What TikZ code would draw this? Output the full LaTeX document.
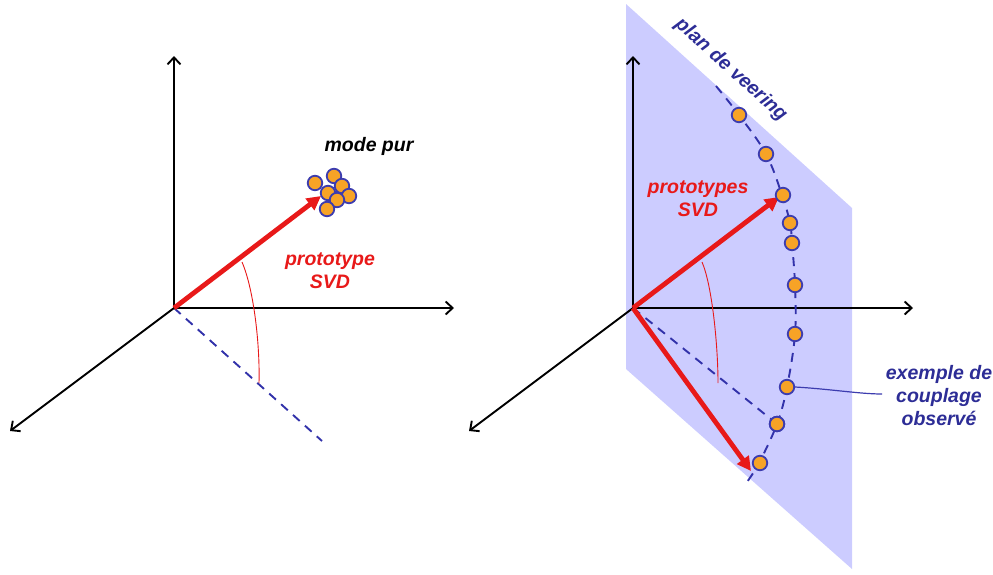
\documentclass[tikz,border=0pt]{standalone}
\usepackage{fontspec}
\setmainfont{Liberation Sans}
\usetikzlibrary{arrows.meta}
\definecolor{planecol}{RGB}{204,204,255}
\definecolor{dotfill}{RGB}{247,163,38}
\definecolor{dotline}{RGB}{60,60,175}
\definecolor{dashblue}{RGB}{50,50,170}
\definecolor{redc}{RGB}{232,25,25}
\definecolor{textblue}{RGB}{45,45,150}
\begin{document}
\begin{tikzpicture}[x=1pt,y=-1pt,
  axis/.style={line width=1.9pt,-{Straight Barb[length=7pt,width=13pt]}},
  redarrow/.style={redc,line width=4.8pt,-{Triangle[length=14pt,width=14pt]}},
  dashline/.style={dashblue,line width=1.9pt,dash pattern=on 9pt off 7pt},
  anglearc/.style={redc,line width=0.9pt},
  pt/.style={circle,fill=dotfill,draw=dotline,line width=1.8pt,minimum size=14.5pt,inner sep=0pt},
  lbl/.style={font=\bfseries\itshape\fontsize{19.5}{23}\selectfont,align=center,inner sep=1pt}]
\useasboundingbox (0,0) rectangle (993,574);

% ---------- left diagram ----------
\coordinate (O1) at (174,308);
\coordinate (Y1) at (174,56);
\coordinate (X1) at (454,308);
\coordinate (Z1) at (10,431);
\coordinate (T1) at (321,196);
\coordinate (D1) at (322,441);
\draw[dashline] (O1) -- (D1);
\draw[axis] (O1) -- (Y1);
\draw[axis] (O1) -- (X1);
\draw[axis] (O1) -- (Z1);
\draw[redarrow] (O1) -- (T1);
\coordinate (A1s) at (242,262);
\coordinate (A1e) at (259,383);
\draw[anglearc] (A1s) .. controls (254,290) and (260,345) .. (A1e);
\node[pt] (c1) at (315,183) {};
\node[pt] (c2) at (334,176) {};
\node[pt] (c3) at (342,186) {};
\node[pt] (c4) at (328,193) {};
\node[pt] (c5) at (349,196) {};
\node[pt] (c6) at (337,200) {};
\node[pt] (c7) at (327,209) {};
\node[lbl] (mp) at (369,146) {mode pur};
\node[lbl,text=redc] (p1) at (330,271) {prototype\\SVD};

% ---------- right diagram ----------
\fill[planecol] (626,4) -- (852,208) -- (852,569) -- (626,369) -- cycle;
\node[lbl,text=textblue,rotate=-42] (pv) at (731,70) {plan de veering};
\coordinate (O2) at (633,308);
\coordinate (Y2) at (633,56);
\coordinate (X2) at (913,308);
\coordinate (Z2) at (469,431);
\draw[axis] (O2) -- (Y2);
\draw[axis] (O2) -- (X2);
\draw[axis] (O2) -- (Z2);
\draw[dashline] plot[smooth,tension=0.6] coordinates {(716,86) (739,115) (766,154) (782,195) (790,223) (792,243) (795,285) (795,334) (787,387) (777,424) (759,463) (747,482)};
\node[pt] (e10) at (777,424) {};
\draw[dashline] (O2) -- (e10);
\coordinate (T2) at (779,197);
\coordinate (T3) at (751,471);
\draw[redarrow] (O2) -- (T2);
\draw[redarrow] (O2) -- (T3);
\coordinate (A2s) at (702,262);
\coordinate (A2e) at (718,383);
\draw[anglearc] (A2s) .. controls (712,285) and (718,345) .. (A2e);
\node[pt] (e1) at (739,115) {};
\node[pt] (e2) at (766,154) {};
\node[pt] (e3) at (783,195) {};
\node[pt] (e4) at (790,223) {};
\node[pt] (e5) at (792,243) {};
\node[pt] (e6) at (795,285) {};
\node[pt] (e7) at (795,334) {};
\node[pt] (e8) at (787,387) {};
\node[pt] (e9) at (777,424) {};
\node[pt] (e11) at (760,463) {};
\node[lbl,text=redc] (p2) at (698,199) {prototypes\\SVD};
\node[lbl,text=textblue] (ex) at (939,396) {exemple de\\couplage\\observé};
\draw[dotline,line width=1.2pt] (e8.east) .. controls (830,389) and (860,394) .. (882,394);
\end{tikzpicture}
\end{document}
